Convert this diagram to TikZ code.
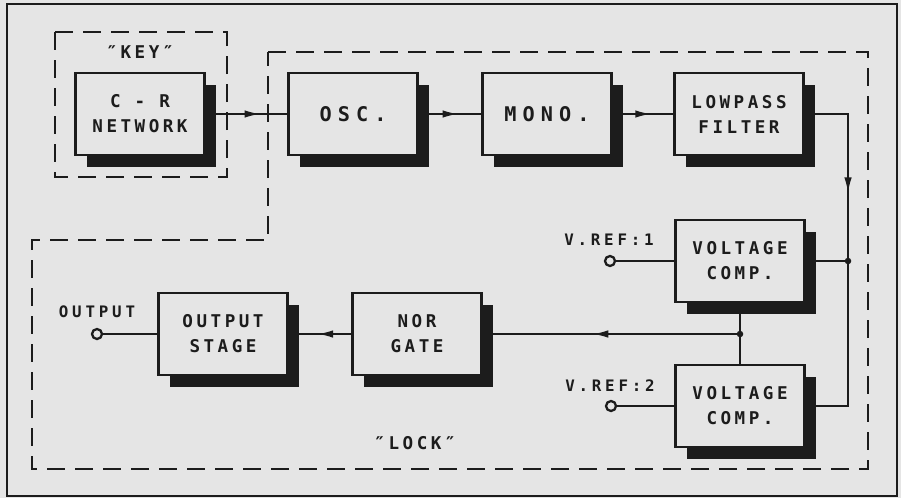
\documentclass[tikz,border=0pt]{standalone}
\usepackage{fontspec}
\newfontfamily\plotfont[LetterSpace=20]{DejaVu Sans Mono Bold}
\newfontfamily\plotwide[LetterSpace=30]{DejaVu Sans Mono Bold}
\newfontfamily\plottag[LetterSpace=24]{DejaVu Sans Mono Bold}
\usetikzlibrary{arrows.meta,shadows,decorations.markings}
\definecolor{paper}{RGB}{229,229,229}
\definecolor{ink}{RGB}{28,28,28}
\tikzset{
  block/.style={draw=ink, line width=1.2pt, fill=paper, text=ink,
    minimum width=25.8mm, minimum height=16.4mm, inner sep=0pt, align=center,
    font=\plotfont\fontsize{10}{14.2}\selectfont,
    general shadow={fill=ink, shadow xshift=2.2mm, shadow yshift=-2.3mm}},
  bigblock/.style={block, font=\plotwide\fontsize{11.5}{14}\selectfont},
  term/.style={circle, draw=ink, line width=1.3pt, fill=paper,
    minimum size=2mm, inner sep=0pt},
  dot/.style={circle, fill=ink, minimum size=1.3mm, inner sep=0pt},
  wire/.style={draw=ink, line width=0.8pt},
  midarrow/.style={postaction={decorate, decoration={markings,
    mark=at position #1 with {\arrow{Latex[length=3mm,width=1.5mm]}}}}},
  fence/.style={draw=ink, line width=1pt, dash pattern=on 3.6mm off 2mm},
  tag/.style={text=ink, inner sep=0pt, font=\plottag\fontsize{9}{10}\selectfont}
}
\begin{document}
\begin{tikzpicture}[x=0.2mm, y=-0.2mm]
    % paper and frame
    \fill[paper] (0,0) rectangle (901,498);
    \useasboundingbox (0,0) rectangle (901,498);
    \draw[ink, line width=1.3pt] (7,4) rectangle (897,496);

    % "KEY" and "LOCK" regions
    \draw[fence] (55,32) rectangle (227,177);
    \draw[fence] (268,52) -- (868,52) -- (868,469) -- (32,469) -- (32,240) -- (268,240) -- cycle;
    \node[tag, font=\plotfont\fontsize{10}{10}\selectfont] (keytxt) at (140,52) {″KEY″};
    \node[tag, font=\plotfont\fontsize{10}{10}\selectfont] (locktxt) at (415,443) {″LOCK″};

    % top row
    \node[block] (cr) at (140,114) {C - R\\NETWORK};
    \node[bigblock] (osc) at (353,114) {OSC.};
    \node[bigblock] (mono) at (547,114) {MONO.};
    \node[block] (lpf) at (739,114) {LOWPASS\\FILTER};

    % comparators
    \node[block] (vc1) at (740,261) {VOLTAGE\\COMP.};
    \node[block] (vc2) at (740,406) {VOLTAGE\\COMP.};
    \node[term] (ref1) at (610,261) {};
    \node[term] (ref2) at (611,406) {};
    \node[tag] (ref1txt) at (609,240) {V.REF:1};
    \node[tag] (ref2txt) at (610,386) {V.REF:2};

    % bottom row
    \node[block] (nor) at (417,334) {NOR\\GATE};
    \node[block] (outst) at (223,334) {OUTPUT\\STAGE};
    \node[term] (outterm) at (97,334) {};
    \node[tag] (outtxt) at (97,312) {OUTPUT};

    % junctions
    \node[dot] (jr) at (848,261) {};
    \node[dot] (jl) at (740,334) {};

    % signal path
    \draw[wire, midarrow=0.66] (cr) -- (osc);
    \draw[wire, midarrow=0.62] (osc) -- (mono);
    \draw[wire, midarrow=0.62] (mono) -- (lpf);
    \draw[wire, midarrow=0.64] (lpf.east) -| (jr.center);
    \draw[wire] (jr.center) |- (vc2.east);
    \draw[wire] (vc1.east) -- (jr.center);
    \draw[wire] (ref1) -- (vc1.west);
    \draw[wire] (ref2) -- (vc2.west);
    \draw[wire] (vc1.south) -- (vc2.north);
    \draw[wire, midarrow=0.57] (jl.center) -- (nor.east);
    \draw[wire, midarrow=0.53] (nor) -- (outst);
    \draw[wire] (outst) -- (outterm);
\end{tikzpicture}
\end{document}
